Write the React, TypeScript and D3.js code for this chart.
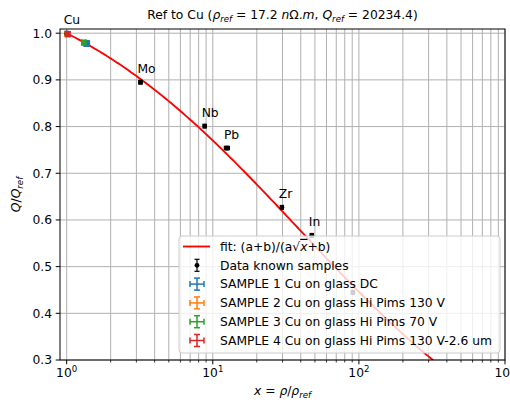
import React from 'react';
import * as d3 from 'd3';

// ---- data ----
const elementNames = ['Cu', 'Mo', 'Nb', 'Pb', 'Zr', 'In', ''];
const knownX = [1.0, 3.2, 8.8, 12.5, 29.7, 47.6, 91];
const knownQ = [1.0, 0.895, 0.801, 0.754, 0.627, 0.567, 0.445];
const knownXerr = [0.03, 0.08, 0.2, 0.5, 0.6, 1.0, 2.0];
const knownQerr = [0.004, 0.004, 0.004, 0.004, 0.004, 0.004, 0.004];

const sampleNames = [
  'SAMPLE 1 Cu on glass DC',
  'SAMPLE 2 Cu on glass Hi Pims 130 V',
  'SAMPLE 3 Cu on glass Hi Pims 70 V',
  'SAMPLE 4 Cu on glass Hi Pims 130 V-2.6 um',
];
const sampleColors = ['#1f77b4', '#ff7f0e', '#2ca02c', '#d62728'];
const sampleX = [1.37, 1.01, 1.31, 1.02];
const sampleQ = [0.978, 0.998, 0.98, 0.998];
const sampleXerr = [0.06, 0.03, 0.04, 0.03];
const sampleQerr = [0.006, 0.005, 0.005, 0.005];

const fitA = 0.138;
const fitB = 0.862;

const yTicks = [0.3, 0.4, 0.5, 0.6, 0.7, 0.8, 0.9, 1.0];
const xMajorTicks = [1, 10, 100, 1000];
const xMajorExp = ['0', '1', '2', '3'];

// ---- layout ----
const W = 510, H = 404;
const L = 60, R = 505, T = 29, B = 360;
const FS = 12.3;
const FONT = 'DejaVu Sans, sans-serif';

export default function App() {
  const x = d3.scaleLog().domain([0.9, 1000]).range([L, R]);
  const y = d3.scaleLinear().domain([0.3, 1.009]).range([B, T]);

  const minorTicks: number[] = [];
  [1, 10, 100].forEach((d) => {
    for (let k = 2; k <= 9; k++) minorTicks.push(k * d);
  });

  const fitXs = d3.range(0, 3.0001, 0.01).map((e) => Math.pow(10, e));
  const fitLine = d3
    .line<number>()
    .x((v) => x(v))
    .y((v) => y((fitA + fitB) / (fitA * Math.sqrt(v) + fitB)));

  const cap = 2.2;
  const gridColor = '#b0b0b0';

  const legX = 179, legY = 236, legW = 321, legH = 117;
  const rowY = (i: number) => legY + 10.5 + i * 18.8;
  const hx = 197;
  const tx = 220;

  return (
    <div style={{ position: 'absolute', left: 0, top: 0 }}>
      <svg width={W} height={H} style={{ display: 'block', background: '#fff' }} fontFamily={FONT}>
        <defs>
          <clipPath id="plotclip">
            <rect x={L} y={T} width={R - L} height={B - T} />
          </clipPath>
        </defs>
        {/* grid */}
        <g stroke={gridColor} strokeWidth={1}>
          {minorTicks.map((t) => (
            <line key={'mg' + t} x1={x(t)} x2={x(t)} y1={T} y2={B} />
          ))}
          {xMajorTicks.map((t) => (
            <line key={'Mg' + t} x1={x(t)} x2={x(t)} y1={T} y2={B} />
          ))}
          {yTicks.map((t) => (
            <line key={'yg' + t} x1={L} x2={R} y1={y(t)} y2={y(t)} />
          ))}
        </g>

        <g clipPath="url(#plotclip)">
          {/* fit */}
          <path d={fitLine(fitXs) || ''} fill="none" stroke="#ff0000" strokeWidth={1.85} />

          {/* known samples */}
          {knownX.map((v, i) => {
            const cx = x(v), cy = y(knownQ[i]);
            const x0 = x(v - knownXerr[i]), x1 = x(v + knownXerr[i]);
            const y0 = y(knownQ[i] - knownQerr[i]), y1 = y(knownQ[i] + knownQerr[i]);
            return (
              <g key={'k' + i} stroke="#000" strokeWidth={1.2}>
                <line x1={x0} x2={x1} y1={cy} y2={cy} />
                <line x1={x0} x2={x0} y1={cy - cap} y2={cy + cap} />
                <line x1={x1} x2={x1} y1={cy - cap} y2={cy + cap} />
                <line x1={cx} x2={cx} y1={y0} y2={y1} />
                <line x1={cx - cap} x2={cx + cap} y1={y0} y2={y0} />
                <line x1={cx - cap} x2={cx + cap} y1={y1} y2={y1} />
                <circle cx={cx} cy={cy} r={2.4} fill="#000" stroke="none" />
              </g>
            );
          })}

          {/* samples */}
          {sampleX.map((v, i) => {
            const cx = x(v), cy = y(sampleQ[i]);
            const x0 = x(v - sampleXerr[i]), x1 = x(v + sampleXerr[i]);
            const y0 = y(sampleQ[i] - sampleQerr[i]), y1 = y(sampleQ[i] + sampleQerr[i]);
            const c = sampleColors[i];
            return (
              <g key={'s' + i} stroke={c} strokeWidth={1.5}>
                <line x1={x0} x2={x1} y1={cy} y2={cy} />
                <line x1={x0} x2={x0} y1={cy - 3} y2={cy + 3} />
                <line x1={x1} x2={x1} y1={cy - 3} y2={cy + 3} />
                <line x1={cx} x2={cx} y1={y0} y2={y1} />
                <line x1={cx - 3} x2={cx + 3} y1={y0} y2={y0} />
                <line x1={cx - 3} x2={cx + 3} y1={y1} y2={y1} />
                <rect x={cx - 2.5} y={cy - 2.5} width={5} height={5} fill={c} stroke="none" />
              </g>
            );
          })}
        </g>

        {/* element labels */}
        {knownX.map((v, i) =>
          elementNames[i] ? (
            <text key={'lab' + i} x={x(v) - 3} y={y(knownQ[i]) - 9} fontSize={FS} fill="#000">
              {elementNames[i]}
            </text>
          ) : null
        )}

        {/* legend */}
        <g>
          <rect x={legX} y={legY} width={legW} height={legH} rx={3} fill="#fff" fillOpacity={0.8} stroke="#cccccc" strokeWidth={1} />
          <line x1={183} x2={210} y1={rowY(0)} y2={rowY(0)} stroke="#ff0000" strokeWidth={1.85} />
          <text x={tx} y={rowY(0) + 4.3} fontSize={FS} fill="#000">
            fit: (a+b)/(a
            <tspan>√</tspan>
            <tspan fontStyle="italic" textDecoration="overline">x</tspan>
            <tspan>+b)</tspan>
          </text>
          <g stroke="#000" strokeWidth={1.2}>
            <line x1={hx} x2={hx} y1={rowY(1) - 6} y2={rowY(1) + 6} />
            <line x1={hx - 2.5} x2={hx + 2.5} y1={rowY(1) - 6} y2={rowY(1) - 6} />
            <line x1={hx - 2.5} x2={hx + 2.5} y1={rowY(1) + 6} y2={rowY(1) + 6} />
            <circle cx={hx} cy={rowY(1)} r={2.4} fill="#000" stroke="none" />
          </g>
          <text x={tx} y={rowY(1) + 4.3} fontSize={FS} fill="#000">Data known samples</text>
          {sampleNames.map((n, i) => {
            const ry = rowY(i + 2);
            const c = sampleColors[i];
            return (
              <g key={'lg' + i}>
                <g stroke={c} strokeWidth={1.5}>
                  <line x1={hx - 7} x2={hx + 7} y1={ry} y2={ry} />
                  <line x1={hx - 7} x2={hx - 7} y1={ry - 3} y2={ry + 3} />
                  <line x1={hx + 7} x2={hx + 7} y1={ry - 3} y2={ry + 3} />
                  <line x1={hx} x2={hx} y1={ry - 6} y2={ry + 6} />
                  <line x1={hx - 3} x2={hx + 3} y1={ry - 6} y2={ry - 6} />
                  <line x1={hx - 3} x2={hx + 3} y1={ry + 6} y2={ry + 6} />
                </g>
                <text x={tx} y={ry + 4.3} fontSize={FS} fill="#000">{n}</text>
              </g>
            );
          })}
        </g>

        {/* spines */}
        <rect x={L} y={T} width={R - L} height={B - T} fill="none" stroke="#000" strokeWidth={1} />

        {/* y ticks */}
        {yTicks.map((t) => (
          <g key={'yt' + t}>
            <line x1={L - 4.3} x2={L} y1={y(t)} y2={y(t)} stroke="#000" strokeWidth={1} />
            <text x={L - 8} y={y(t) + 4.3} fontSize={FS} textAnchor="end" fill="#000">
              {t.toFixed(1)}
            </text>
          </g>
        ))}

        {/* x ticks */}
        {minorTicks.map((t) => (
          <line key={'xmt' + t} x1={x(t)} x2={x(t)} y1={B} y2={B + 2.5} stroke="#000" strokeWidth={0.8} />
        ))}
        {xMajorTicks.map((t, i) => (
          <g key={'xt' + t}>
            <line x1={x(t)} x2={x(t)} y1={B} y2={B + 4.3} stroke="#000" strokeWidth={1} />
            <text x={x(t)} y={B + 17} fontSize={FS} textAnchor="middle" fill="#000">
              10
              <tspan dy={-5} fontSize={FS * 0.7}>{xMajorExp[i]}</tspan>
            </text>
          </g>
        ))}

        {/* axis labels */}
        <text x={(L + R) / 2} y={B + 35} fontSize={FS} textAnchor="middle" fill="#000">
          <tspan fontStyle="italic">x</tspan>
          <tspan> = </tspan>
          <tspan fontStyle="italic">ρ</tspan>
          <tspan>/</tspan>
          <tspan fontStyle="italic">ρ</tspan>
          <tspan fontStyle="italic" fontSize={FS * 0.7} dy={2.5}>ref</tspan>
        </text>
        <text transform={`translate(20,${(T + B) / 2}) rotate(-90)`} fontSize={FS} textAnchor="middle" fill="#000">
          <tspan fontStyle="italic">Q</tspan>
          <tspan>/</tspan>
          <tspan fontStyle="italic">Q</tspan>
          <tspan fontStyle="italic" fontSize={FS * 0.7} dy={2.5}>ref</tspan>
        </text>

        {/* title */}
        <text x={(L + R) / 2} y={19} fontSize={FS} textAnchor="middle" fill="#000">
          Ref to Cu (
          <tspan fontStyle="italic">ρ</tspan>
          <tspan fontStyle="italic" fontSize={FS * 0.7} dy={2.5}>ref</tspan>
          <tspan dy={-2.5}> = 17.2 </tspan>
          <tspan fontStyle="italic">n</tspan>
          <tspan>Ω.</tspan>
          <tspan fontStyle="italic">m</tspan>
          <tspan>, </tspan>
          <tspan fontStyle="italic">Q</tspan>
          <tspan fontStyle="italic" fontSize={FS * 0.7} dy={2.5}>ref</tspan>
          <tspan dy={-2.5}> = 20234.4)</tspan>
        </text>
      </svg>
    </div>
  );
}
